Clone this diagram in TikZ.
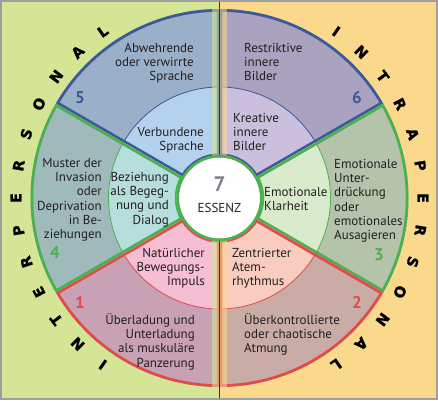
\documentclass[tikz,border=0pt]{standalone}
\usepackage{fontspec}
\setmainfont{PT Sans}
\newfontfamily\letterfont[BoldFeatures={FakeBold=1.3}]{DejaVu Sans}
\definecolor{bgL}{HTML}{D4E696}
\definecolor{bgR}{HTML}{FAD98C}
\definecolor{lnB}{HTML}{3C5A9A}
\definecolor{lnG}{HTML}{4CAF50}
\definecolor{lnR}{HTML}{E24B4B}
\definecolor{oFive}{HTML}{9AAFC8}
\definecolor{iFive}{HTML}{B4D2EE}
\definecolor{oSix}{HTML}{AAA2BE}
\definecolor{iSix}{HTML}{CAC0DE}
\definecolor{oThree}{HTML}{B4C3AA}
\definecolor{iThree}{HTML}{DAEBCD}
\definecolor{oTwo}{HTML}{C8ACA5}
\definecolor{iTwo}{HTML}{F8CDC0}
\definecolor{oOne}{HTML}{C8A2B4}
\definecolor{iOne}{HTML}{F6BED4}
\definecolor{oFour}{HTML}{A0BABC}
\definecolor{iFour}{HTML}{B6DEDC}
\definecolor{txt}{HTML}{231F20}
\definecolor{sevengray}{HTML}{80808A}
\def\Rc{43}
\def\Ri{111}
\def\Ro{189}
\newcommand\dosector[5]{%
  \fill[#3] (#1:\Rc) arc[start angle=#1,end angle=#2,radius=\Rc] -- (#2:\Ro) arc[start angle=#2,end angle=#1,radius=\Ro] -- cycle;
  \fill[#4] (#1:\Rc) arc[start angle=#1,end angle=#2,radius=\Rc] -- (#2:\Ri) arc[start angle=#2,end angle=#1,radius=\Ri] -- cycle;
  \draw[#5, line width=0.8] (#1:\Ri) arc[start angle=#1,end angle=#2,radius=\Ri];
  \begin{scope}
    \clip (#1:\Rc) arc[start angle=#1,end angle=#2,radius=\Rc] -- (#2:\Ro) arc[start angle=#2,end angle=#1,radius=\Ro] -- cycle;
    \draw[#5, line width=5.5] (#2:\Rc) -- (#2:\Ro) arc[start angle=#2,end angle=#1,radius=\Ro] -- (#1:\Rc);
    \draw[#5, line width=3.5] (#1:\Rc) arc[start angle=#1,end angle=#2,radius=\Rc];
  \end{scope}
}
\newcommand\blockR[4]{%
  \foreach \t [count=\i] in {#4} {\node[lbl, anchor=base east] (#1-\i) at (#2, {#3+(\i-1)*14.2}) {\t};}}
\newcommand\blockL[4]{%
  \foreach \t [count=\i] in {#4} {\node[lbl, anchor=base west] (#1-\i) at (#2, {#3+(\i-1)*14.2}) {\t};}}
\tikzset{
  lbl/.style={inner sep=0pt, text=txt, font=\fontsize{13}{14}\selectfont},
  num/.style={inner sep=0pt, font=\fontsize{17}{17}\selectfont\bfseries},
  ringletter/.style={inner sep=0pt, text=black, font=\letterfont\bfseries\fontsize{14.5}{15}\selectfont},
}
\begin{document}
\begin{tikzpicture}[x=1pt,y=1pt]
\useasboundingbox (0,0) rectangle (438,400);
\fill[bgL] (0,0) rectangle (219.5,400);
\fill[bgR] (219.5,0) rectangle (438,400);
\begin{scope}[shift={(219.5,202)}]
  \dosector{90}{150}{oFive}{iFive}{lnB}
  \dosector{30}{90}{oSix}{iSix}{lnB}
  \dosector{-30}{30}{oThree}{iThree}{lnG}
  \dosector{-90}{-30}{oTwo}{iTwo}{lnR}
  \dosector{-150}{-90}{oOne}{iOne}{lnR}
  \dosector{150}{210}{oFour}{iFour}{lnG}
\end{scope}
% central band
\fill[bgL, opacity=0.55] (212,0) rectangle (219.5,400);
\fill[bgR, opacity=0.55] (219.5,0) rectangle (227,400);
\draw[black!80, line width=1] (219.5,0) -- (219.5,400);
\begin{scope}[shift={(219.5,202)}]
  \fill[white] (0,0) circle (40.5);
  \draw[lnG, line width=2.6] (0,0) circle (41.8);
  \foreach \ch [count=\i from 0] in {I,N,T,E,R,P,E,R,S,O,N,A,L} {
    \pgfmathsetmacro\ang{235-\i*9.1667}
    \pgfmathsetmacro\rot{\ang-90}
    \node[ringletter, rotate=\rot] (inter\i) at (\ang:203.5) {\ch};
  }
  \foreach \ch [count=\i from 0] in {I,N,T,R,A,P,E,R,S,O,N,A,L} {
    \pgfmathsetmacro\ang{55-\i*9.1667}
    \pgfmathsetmacro\rot{\ang-90}
    \node[ringletter, rotate=\rot] (intra\i) at (\ang:203.5) {\ch};
  }
\end{scope}
\begin{scope}[y=-1pt, yshift=400pt]
  \blockR{sfo}{194}{52.5}{Abwehrende,oder verwirrte,Sprache}
  \blockR{sfi}{204}{136.5}{Verbundene,Sprache}
  \blockL{sxo}{244}{52.5}{Restriktive,innere,Bilder}
  \blockL{sxi}{233}{122.5}{Kreative,innere,Bilder}
  \blockR{sro}{102}{167.5}{Muster der,Invasion,oder,Deprivation,in Be-,ziehungen}
  \blockR{sri}{169}{181.5}{Beziehung,als Begeg-,nung und,Dialog}
  \blockL{sto}{334}{168.5}{Emotionale,Unter-,drückung,oder,emotionales,Ausagieren}
  \blockL{sti}{264}{196.5}{Emotionale,Klarheit}
  \blockR{soi}{205}{257.5}{Natürlicher,Bewegungs-,Impuls}
  \blockR{soo}{195}{324.5}{Überladung und,Unterladung,als muskuläre,Panzerung}
  \blockL{swi}{232}{257.5}{Zentrierter,Atem-,rhythmus}
  \blockL{swo}{244}{324.5}{Überkontrollierte,oder chaotische,Atmung}
  \node[num, text=lnB] (n5) at (80,98) {5};
  \node[num, text=lnB] (n6) at (357,98) {6};
  \node[num, text=lnG] (n4) at (55,253) {4};
  \node[num, text=lnG] (n3) at (379,255) {3};
  \node[num, text=lnR] (n1) at (80,302) {1};
  \node[num, text=lnR] (n2) at (357,302) {2};
  \node[inner sep=0pt, text=sevengray, font=\fontsize{21}{21}\selectfont\bfseries] (n7) at (219.5,184) {7};
  \node[lbl] (essenz) at (219.5,208) {ESSENZ};
\end{scope}
\draw[gray!75, line width=2] (1,1) rectangle (437,399);
\end{tikzpicture}
\end{document}
